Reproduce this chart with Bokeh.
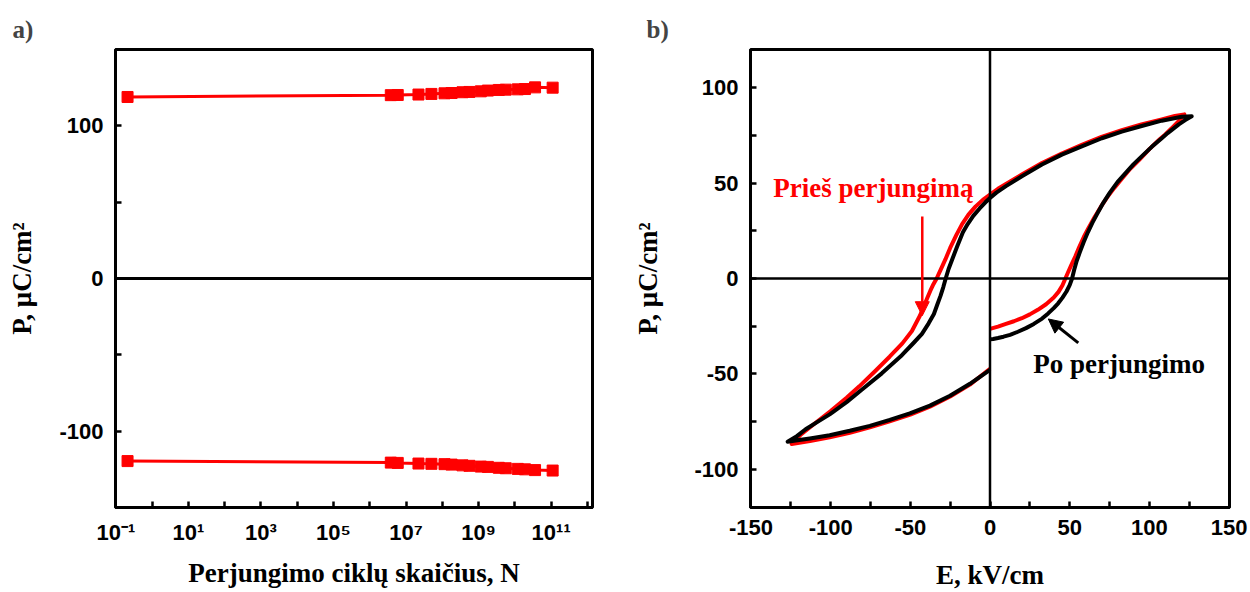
from bokeh.plotting import figure
from bokeh.layouts import row
from bokeh.models import (Range1d, FixedTicker, CustomJSTickFormatter, Span, Arrow,
                          NormalHead, Label)
from bokeh.embed import file_html
from bokeh.resources import INLINE

SANS = "Liberation Sans"
SERIF = "Liberation Serif"

# ---------------- Panel a data ----------------
cycles = [0.21, 3.8e6, 5.9e6, 2.2e7, 5.0e7, 1.15e8, 1.8e8, 3.6e8, 5.6e8, 1.15e9,
          1.8e9, 3.6e9, 5.6e9, 1.2e10, 1.9e10, 3.6e10, 1.1e11]
p_pos = [118.9, 120.1, 120.2, 120.5, 120.9, 121.3, 121.5, 122.0, 122.2, 122.6,
         123.1, 123.5, 123.7, 123.9, 124.1, 125.2, 125.0]
p_neg = [-119.6, -120.6, -120.8, -121.2, -121.4, -121.6, -121.9, -122.4, -122.7, -123.2,
         -123.4, -124.0, -124.3, -124.7, -125.0, -125.5, -125.8]

a_major_exp = [-1, 1, 3, 5, 7, 9, 11]
a_minor_exp = [0, 2, 4, 6, 8, 10, 12]
a_x_labels = ["10⁻¹", "10¹", "10³", "10⁵", "10⁷", "10⁹", "10¹¹"]
a_y_ticks = [-100, 0, 100]
a_y_minor = [-150, -50, 50, 150]
a_y_labels = ["-100", "0", "100"]

# ---------------- Panel b data ----------------
# "Prieš perjungimą" (red) loop
E_before = [0, -12.6, -25, -37.7, -50, -63, -75.4, -88, -100.6, -113, -124.5,
            -119, -110, -100, -90, -82, -72, -63, -55, -49, -44, -41.5, -39.5, -37.5,
            -35.5, -33.5, -31, -28, -25, -21, -17.5, -13.5, -9, -4.5, 0, 5, 10, 20,
            32.6, 45, 57.6, 70, 82.7, 95, 107.8, 116, 122,
            119, 114, 110, 106.5, 100, 93.5, 88, 83, 78, 73.5, 69.5, 65.5, 62, 59, 56,
            53.5, 51, 49, 47.3, 45.5, 43, 40, 35.2, 30, 25, 20, 15, 10, 5, 0]
P_before = [-47.3, -55.6, -61.8, -67.2, -71.3, -74.8, -78, -80.8, -83.2, -85.2, -86.7,
            -82, -76, -69.5, -62.5, -56.5, -48.5, -41, -34, -27.5, -19.5, -14.5, -10.5, -6.5,
            -3, 0, 4.5, 10, 16, 23, 28.5, 33.5, 37.8, 41.2, 44, 47, 49.5, 54.5,
            60.5, 65.5, 70, 74.2, 77.7, 80.7, 83.4, 85.2, 86,
            83, 78.7, 75.5, 73, 67.8, 62, 57.5, 52.5, 47.5, 42.5, 37.5, 32, 26.8, 22, 16.5,
            11.5, 7, 3.3, 0, -3.5, -7, -10, -13.5, -16.4, -18.8, -20.8, -22.4, -23.8, -25.2, -26.4]

# "Po perjungimo" (black) loop
E_after = [0, -12.6, -25.1, -37.7, -50.3, -62.9, -75.4, -88, -100.6, -113, -122, -127,
           -121, -115.7, -108, -100.6, -90, -80.5, -67.9, -55.3, -48, -42.7, -38.5, -35.2,
           -33, -31, -29.3, -27.8, -26, -23.5, -20.5, -17, -14, -10.5, -6.5, -3, 0, 4, 10,
           20, 32.6, 45.1, 57.6, 70.2, 82.7, 95.2, 107.8, 120.3, 126.6,
           122.5, 118.5, 115.3, 111.5, 107.8, 101.5, 95.2, 90, 85.2, 80, 75.2, 71.2, 67.7,
           64.3, 61.4, 58.7, 56.4, 54.4, 52.8, 51.5, 50, 48, 45.5, 42.8, 40, 36.5, 32.7,
           27.5, 22.6, 17.5, 12.6, 8.5, 5, 2, 0]
P_after = [-47.9, -55.2, -61.4, -66.6, -70.7, -74.1, -77.2, -79.8, -82.1, -83.8, -84.9, -85.5,
           -82.5, -79, -75, -71.2, -64.8, -58.3, -49.7, -40.2, -33.8, -29, -23.5, -18.6,
           -13.5, -9, -4.5, 0, 5, 10.5, 17, 24.2, 28.5, 32.8, 36.7, 39.8, 42.2, 45, 48.4,
           53.6, 59.7, 64.9, 69.2, 73.5, 77, 79.9, 82.7, 84.8, 85,
           83, 80.8, 78.7, 76.2, 73.5, 69, 64, 59.8, 55.4, 50.5, 45, 39.8, 34.6,
           29.3, 24.2, 18.9, 13.8, 9.2, 4.5, 0, -3.5, -6.8, -10, -13, -15.5, -18.3, -21,
           -23.8, -26, -27.9, -29.5, -30.5, -31.2, -31.7, -31.9]

b_x_ticks = [-150, -100, -50, 0, 50, 100, 150]
b_x_minor = [-125, -75, -25, 25, 75, 125]
b_x_labels = ["-150", "-100", "-50", "0", "50", "100", "150"]
b_y_ticks = [-100, -50, 0, 50, 100]
b_y_minor = [-125, -75, -25, 25, 75, 125]
b_y_labels = ["-100", "-50", "0", "50", "100"]


def style(p):
    p.outline_line_color = "black"
    p.outline_line_width = 3
    p.background_fill_color = "white"
    p.border_fill_color = "white"
    p.xgrid.visible = False
    p.ygrid.visible = False
    for ax in (p.xaxis[0], p.yaxis[0]):
        ax.axis_line_width = 3
        ax.axis_line_color = "black"
        ax.major_tick_in = 6
        ax.major_tick_out = 0
        ax.minor_tick_in = 6
        ax.minor_tick_out = 0
        ax.major_tick_line_width = 2.5
        ax.minor_tick_line_width = 2.5
        ax.major_tick_line_color = "black"
        ax.minor_tick_line_color = "black"
        ax.major_label_text_font = SANS
        ax.major_label_text_font_style = "bold"
        ax.major_label_text_font_size = "22px"
        ax.major_label_text_color = "black"
        ax.major_label_standoff = 12
        ax.axis_label_text_font = SERIF
        ax.axis_label_text_font_style = "bold"
        ax.axis_label_text_font_size = "27px"
        ax.axis_label_text_color = "black"
    p.title.text_font = SERIF
    p.title.text_font_style = "bold"
    p.title.text_font_size = "25px"
    p.title.align = "left"
    p.title.standoff = 13


# ---------------- Panel a ----------------
p1 = figure(width=620, height=592, x_axis_type="log",
            x_range=Range1d(10 ** -1.01, 10 ** 12.14), y_range=Range1d(-150, 150),
            output_backend="svg", toolbar_location=None, title="a)",
            min_border_left=115, min_border_right=28, min_border_top=49, min_border_bottom=80)
style(p1)
p1.title.offset = -103
p1.xaxis.ticker = FixedTicker(ticks=[10.0 ** e for e in a_major_exp],
                              minor_ticks=[10.0 ** e for e in a_minor_exp])
p1.xaxis.formatter = CustomJSTickFormatter(
    args=dict(exps=a_major_exp, labels=a_x_labels),
    code="const e = Math.round(Math.log10(tick)); const i = exps.indexOf(e); return i >= 0 ? labels[i] : '';")
p1.yaxis.ticker = FixedTicker(ticks=a_y_ticks, minor_ticks=a_y_minor)
p1.yaxis.major_label_overrides = {t: s for t, s in zip(a_y_ticks, a_y_labels)}
p1.xaxis.axis_label = "Perjungimo ciklų skaičius, N"
p1.yaxis.axis_label = "P, μC/cm²"
p1.xaxis.axis_label_standoff = 10
p1.yaxis.axis_label_standoff = 19

p1.add_layout(Span(location=0, dimension="width", line_color="black", line_width=3))
for vals in (p_pos, p_neg):
    p1.line(cycles, vals, line_color="red", line_width=3)
    p1.scatter(cycles, vals, marker="square", size=11, fill_color="red", line_color="red")

# ---------------- Panel b ----------------
p2 = figure(width=630, height=592,
            x_range=Range1d(-150.3, 150.3), y_range=Range1d(-120, 120),
            output_backend="svg", toolbar_location=None, title="b)",
            min_border_left=130, min_border_right=21, min_border_top=49, min_border_bottom=80)
style(p2)
p2.title.offset = -104
p2.xaxis.ticker = FixedTicker(ticks=b_x_ticks, minor_ticks=b_x_minor)
p2.xaxis.major_label_overrides = {t: s for t, s in zip(b_x_ticks, b_x_labels)}
p2.yaxis.ticker = FixedTicker(ticks=b_y_ticks, minor_ticks=b_y_minor)
p2.yaxis.major_label_overrides = {t: s for t, s in zip(b_y_ticks, b_y_labels)}
p2.xaxis.axis_label = "E, kV/cm"
p2.yaxis.axis_label = "P, μC/cm²"
p2.xaxis.axis_label_standoff = 22
p2.yaxis.axis_label_standoff = 28

p2.add_layout(Span(location=0, dimension="width", line_color="black", line_width=2.5))
p2.add_layout(Span(location=0, dimension="height", line_color="black", line_width=2.5))

p2.line(E_before, P_before, line_color="red", line_width=4, line_join="round")
p2.line(E_after, P_after, line_color="black", line_width=4, line_join="round")

p2.add_layout(Arrow(end=NormalHead(size=14, fill_color="red", line_color="red"),
                    x_start=-42.5, y_start=32.5, x_end=-42.5, y_end=-19.5,
                    line_color="red", line_width=2.5))
p2.add_layout(Arrow(end=NormalHead(size=14, fill_color="black", line_color="black"),
                    x_start=55.4, y_start=-33.7, x_end=36.6, y_end=-21.2,
                    line_color="black", line_width=3))

p2.add_layout(Label(x=-136, y=47.6, text="Prieš perjungimą", text_font=SERIF,
                    text_font_style="bold", text_font_size="27px", text_color="red",
                    text_baseline="alphabetic"))
p2.add_layout(Label(x=27.2, y=-44.6, text="Po perjungimo", text_font=SERIF,
                    text_font_style="bold", text_font_size="27px", text_color="black",
                    text_baseline="alphabetic"))

layout = row(p1, p2)
open("out.html", "w").write(file_html(layout, INLINE))
